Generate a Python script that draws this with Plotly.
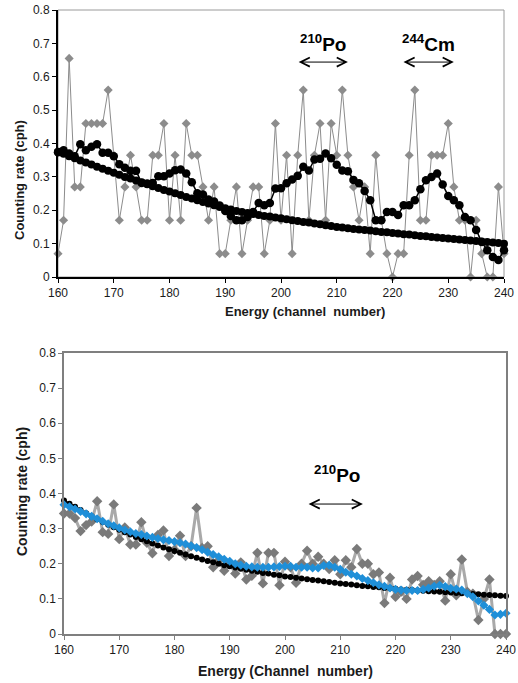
import plotly.graph_objects as go

# ---- data ----
channels = list(range(160, 241))

# top panel: raw spectrum (grey diamonds)
top_raw = [0.07, 0.17, 0.655, 0.27, 0.27, 0.46, 0.46, 0.46, 0.46, 0.56,
           0.365, 0.17, 0.27, 0.365, 0.27, 0.17, 0.17, 0.365, 0.365, 0.46,
           0.17, 0.365, 0.17, 0.46, 0.365, 0.365, 0.27, 0.17, 0.27, 0.07,
           0.07, 0.17, 0.27, 0.07, 0.17, 0.27, 0.27, 0.07, 0.17, 0.46,
           0.17, 0.365, 0.07, 0.365, 0.56, 0.17, 0.365, 0.46, 0.17, 0.46,
           0.365, 0.56, 0.365, 0.27, 0.17, 0.27, 0.07, 0.365, 0.17, 0.07,
           0.0, 0.07, 0.07, 0.365, 0.56, 0.17, 0.17, 0.365, 0.365, 0.365,
           0.46, 0.27, 0.17, 0.17, 0.0, 0.17, 0.07, 0.0, 0.0, 0.27,
           0.07]
# top panel: smoothed spectrum (black dots)
top_smooth = [0.374, 0.38, 0.37, 0.362, 0.398, 0.38, 0.39, 0.398, 0.372, 0.372,
              0.362, 0.338, 0.327, 0.318, 0.318, 0.282, 0.28, 0.282, 0.302, 0.302,
              0.31, 0.32, 0.322, 0.31, 0.284, 0.251, 0.247, 0.232, 0.226, 0.214,
              0.198, 0.183, 0.17, 0.17, 0.18, 0.195, 0.222, 0.215, 0.222, 0.265,
              0.266, 0.281, 0.292, 0.303, 0.33, 0.319, 0.352, 0.354, 0.37, 0.356,
              0.336, 0.319, 0.317, 0.291, 0.281, 0.258, 0.23, 0.17, 0.17, 0.195,
              0.195, 0.186, 0.215, 0.215, 0.23, 0.263, 0.29, 0.3, 0.31, 0.277,
              0.243, 0.23, 0.215, 0.18, 0.17, 0.141, 0.105, 0.08, 0.06, 0.051,
              0.08]
# top panel: background fit (black dots)
top_fit = [0.375, 0.369, 0.362, 0.356, 0.349, 0.343, 0.337, 0.330, 0.324, 0.318,
           0.312, 0.306, 0.300, 0.295, 0.289, 0.284, 0.278, 0.272, 0.267, 0.261,
           0.256, 0.251, 0.246, 0.240, 0.235, 0.230, 0.225, 0.220, 0.215, 0.210,
           0.206, 0.202, 0.198, 0.195, 0.192, 0.189, 0.186, 0.183, 0.181, 0.178,
           0.176, 0.173, 0.170, 0.168, 0.165, 0.163, 0.160, 0.158, 0.155, 0.153,
           0.150, 0.148, 0.146, 0.144, 0.142, 0.141, 0.139, 0.137, 0.135, 0.134,
           0.132, 0.130, 0.128, 0.127, 0.125, 0.123, 0.122, 0.120, 0.118, 0.117,
           0.115, 0.114, 0.112, 0.111, 0.109, 0.108, 0.106, 0.105, 0.103, 0.102,
           0.100]

# bottom panel: raw spectrum (grey diamonds)
bot_raw = [0.343, 0.343, 0.33, 0.293, 0.31, 0.32, 0.378, 0.29, 0.285, 0.369,
           0.27, 0.303, 0.255, 0.255, 0.318, 0.26, 0.23, 0.282, 0.295, 0.222,
           0.24, 0.28, 0.222, 0.25, 0.359, 0.245, 0.25, 0.19, 0.21, 0.18,
           0.2, 0.172, 0.204, 0.155, 0.166, 0.231, 0.144, 0.231, 0.231, 0.139,
           0.206, 0.19, 0.146, 0.2, 0.237, 0.2, 0.22, 0.2, 0.185, 0.21,
           0.17, 0.21, 0.19, 0.242, 0.2, 0.2, 0.17, 0.175, 0.088, 0.16,
           0.106, 0.12, 0.1, 0.155, 0.165, 0.14, 0.15, 0.14, 0.15, 0.095,
           0.17, 0.11, 0.212, 0.12, 0.115, 0.04, 0.1, 0.155, 0.0, 0.0,
           0.0]
# bottom panel: smoothed spectrum (blue diamonds)
bot_smooth = [0.368, 0.362, 0.356, 0.349, 0.342, 0.335, 0.328, 0.321, 0.314, 0.308,
              0.302, 0.296, 0.291, 0.286, 0.283, 0.279, 0.275, 0.272, 0.268, 0.266,
              0.263, 0.26, 0.256, 0.251, 0.246, 0.24, 0.233, 0.226, 0.22, 0.213,
              0.207, 0.2, 0.196, 0.193, 0.191, 0.19, 0.19, 0.19, 0.191, 0.192,
              0.193, 0.193, 0.19, 0.19, 0.19, 0.188, 0.188, 0.195, 0.196, 0.19,
              0.184, 0.176, 0.17, 0.165, 0.158, 0.152, 0.146, 0.14, 0.136, 0.131,
              0.127, 0.125, 0.124, 0.124, 0.124, 0.127, 0.131, 0.136, 0.139, 0.135,
              0.13, 0.128, 0.125, 0.115, 0.106, 0.094, 0.082, 0.07, 0.054, 0.056,
              0.059]
# bottom panel: background fit (black dots)
bot_fit = [0.380, 0.371, 0.362, 0.353, 0.344, 0.335, 0.327, 0.319, 0.311, 0.304,
           0.297, 0.290, 0.283, 0.276, 0.270, 0.264, 0.258, 0.252, 0.246, 0.241,
           0.236, 0.231, 0.226, 0.221, 0.217, 0.212, 0.208, 0.204, 0.200, 0.196,
           0.193, 0.189, 0.186, 0.183, 0.180, 0.177, 0.174, 0.172, 0.169, 0.167,
           0.164, 0.162, 0.160, 0.158, 0.156, 0.154, 0.152, 0.150, 0.148, 0.146,
           0.144, 0.142, 0.141, 0.139, 0.137, 0.136, 0.134, 0.133, 0.131, 0.130,
           0.129, 0.127, 0.126, 0.125, 0.124, 0.123, 0.122, 0.121, 0.120, 0.119,
           0.118, 0.117, 0.116, 0.115, 0.114, 0.113, 0.112, 0.111, 0.110, 0.109,
           0.108]

x_ticks = [160, 170, 180, 190, 200, 210, 220, 230, 240]
y_ticks = [0, 0.1, 0.2, 0.3, 0.4, 0.5, 0.6, 0.7, 0.8]
y_ticktext = ["0", "0.1", "0.2", "0.3", "0.4", "0.5", "0.6", "0.7", "0.8"]

FONT = "Liberation Sans, Arial, sans-serif"
W, H = 518, 683

fig = go.Figure()

# ---- top panel ----
fig.add_trace(go.Scatter(x=channels, y=top_raw, mode="lines+markers",
                         line=dict(color="#8c8c8c", width=1),
                         marker=dict(symbol="diamond", size=7, color="#8c8c8c"),
                         cliponaxis=False, xaxis="x", yaxis="y"))
fig.add_trace(go.Scatter(x=channels, y=top_smooth, mode="lines+markers",
                         line=dict(color="black", width=1.5),
                         marker=dict(symbol="circle", size=8.5, color="black"),
                         cliponaxis=False, xaxis="x", yaxis="y"))
fig.add_trace(go.Scatter(x=channels, y=top_fit, mode="lines+markers",
                         line=dict(color="black", width=1.5),
                         marker=dict(symbol="circle", size=8, color="black"),
                         cliponaxis=False, xaxis="x", yaxis="y"))

# ---- bottom panel ----
fig.add_trace(go.Scatter(x=channels, y=bot_raw, mode="lines+markers",
                         line=dict(color="#a9a9a9", width=3),
                         marker=dict(symbol="diamond", size=8, color="#7a7a7a"),
                         cliponaxis=False, xaxis="x2", yaxis="y2"))
fig.add_trace(go.Scatter(x=channels, y=bot_fit, mode="lines+markers",
                         line=dict(color="black", width=2),
                         marker=dict(symbol="circle", size=6, color="black"),
                         cliponaxis=False, xaxis="x2", yaxis="y2"))
fig.add_trace(go.Scatter(x=channels, y=bot_smooth, mode="lines+markers",
                         line=dict(color="#1f8fd8", width=1.5),
                         marker=dict(symbol="diamond", size=7, color="#1f8fd8"),
                         cliponaxis=False, xaxis="x2", yaxis="y2"))

# domains in paper units from pixel boxes
top_box = (58, 504, 10, 277)
bot_box = (64, 506, 353, 634)


def dom_x(b):
    return [b[0] / W, b[1] / W]


def dom_y(b):
    return [(H - b[3]) / H, (H - b[2]) / H]


tick_font = dict(family=FONT, size=12, color="#1a1a1a")
common = dict(showgrid=False, zeroline=False, automargin=False, tickfont=tick_font,
              ticks="outside", ticklen=4, showline=True)

fig.update_layout(
    width=W, height=H,
    margin=dict(l=0, r=0, t=0, b=0, autoexpand=False),
    paper_bgcolor="white", plot_bgcolor="white",
    showlegend=False,
    xaxis=dict(domain=dom_x(top_box), anchor="y", range=[160, 240],
               tickvals=x_ticks, tickcolor="black",
               linecolor="black", linewidth=2, **common),
    yaxis=dict(domain=dom_y(top_box), anchor="x", range=[0, 0.8],
               tickvals=y_ticks, ticktext=y_ticktext,
               tickcolor="black", linecolor="black", linewidth=2, **common),
    xaxis2=dict(domain=dom_x(bot_box), anchor="y2", range=[160, 240],
                tickvals=x_ticks, tickcolor="#7f7f7f",
                mirror=True, linecolor="#7f7f7f", linewidth=1.5, **common),
    yaxis2=dict(domain=dom_y(bot_box), anchor="x2", range=[0, 0.8],
                tickvals=y_ticks, ticktext=y_ticktext, tickcolor="#7f7f7f",
                mirror=True, linecolor="#7f7f7f", linewidth=1.5, **common),
)

# grey frame on the top panel (top and right edges)
fig.add_shape(type="rect", xref="x domain", yref="y domain", x0=0, x1=1, y0=0, y1=1,
              line=dict(color="#9a9a9a", width=1), layer="below")

title_font = dict(family=FONT, size=13, color="#1a1a1a")
mid = dict(xref="paper", yref="paper", showarrow=False, xanchor="center",
           yanchor="middle")
ann = []
# axis titles
ann.append(dict(text="<b>Energy (channel  number)</b>", x=305 / W, y=(H - 311) / H,
                font=title_font, **mid))
ann.append(dict(text="<b>Counting rate (cph)</b>", x=19 / W, y=(H - 180) / H,
                textangle=-90, font=title_font, **mid))
ann.append(dict(text="<b>Energy (Channel  number)</b>", x=285 / W, y=(H - 671) / H,
                font=dict(family=FONT, size=14, color="#1a1a1a"), **mid))
ann.append(dict(text="<b>Counting rate (cph)</b>", x=22 / W, y=(H - 492) / H,
                textangle=-90, font=dict(family=FONT, size=14, color="#1a1a1a"), **mid))

# nuclide labels
lab_font = dict(family=FONT, size=19, color="black")
ann.append(dict(text="<b><sup>210</sup>Po</b>", x=207.5, y=0.7, xref="x", yref="y",
                showarrow=False, font=lab_font))
ann.append(dict(text="<b><sup>244</sup>Cm</b>", x=226.5, y=0.7, xref="x", yref="y",
                showarrow=False, font=lab_font))
ann.append(dict(text="<b><sup>210</sup>Po</b>", x=209.5, y=0.455, xref="x2", yref="y2",
                showarrow=False, font=lab_font))

# double-headed arrows
arrow_spans = [("x", "y", 202.9, 212.0, 0.644),
               ("x", "y", 221.7, 231.0, 0.644),
               ("x2", "y2", 204.0, 214.1, 0.37)]
for xr, yr, xa, xb, yv in arrow_spans:
    ann.append(dict(text="", x=xb, y=yv, ax=xa, ay=yv, xref=xr, yref=yr,
                    axref=xr, ayref=yr, showarrow=True, arrowside="end+start",
                    arrowhead=5, startarrowhead=5, arrowsize=1.8, startarrowsize=1.8,
                    arrowwidth=1, arrowcolor="black"))

fig.update_layout(annotations=ann)

# drop the browser's default body margin so the figure sits at the page corner
fig.write_html("out.html", config={"displayModeBar": False},
               post_script="document.body.style.margin='0';")
